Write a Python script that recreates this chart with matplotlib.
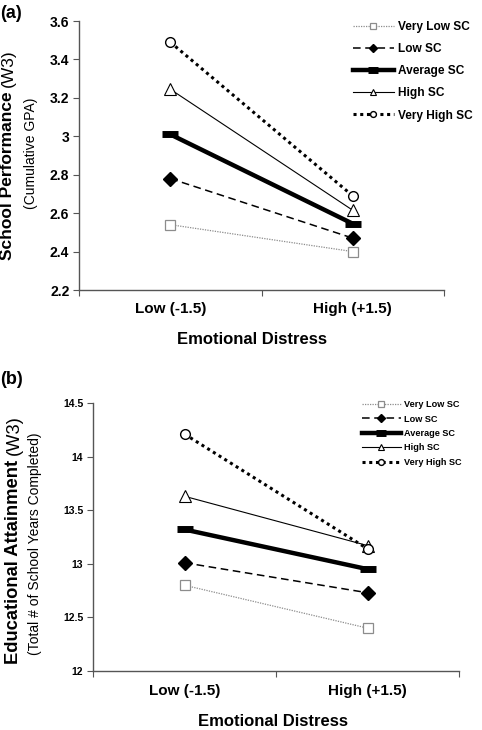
import matplotlib
matplotlib.use("Agg")
import matplotlib.pyplot as plt

plt.rcParams['font.family'] = ['Liberation Sans', 'DejaVu Sans']

categories = ["Low (-1.5)", "High (+1.5)"]
series_names = ["Very Low SC", "Low SC", "Average SC", "High SC", "Very High SC"]

gpa_very_low = [2.54, 2.40]
gpa_low = [2.78, 2.47]
gpa_average = [3.01, 2.545]
gpa_high = [3.245, 2.615]
gpa_very_high = [3.49, 2.69]

edu_very_low = [12.80, 12.40]
edu_low = [13.01, 12.73]
edu_average = [13.32, 12.95]
edu_high = [13.63, 13.17]
edu_very_high = [14.21, 13.14]

gpa_ticks = [2.2, 2.4, 2.6, 2.8, 3.0, 3.2, 3.4, 3.6]
gpa_ticklabels = ["2.2", "2.4", "2.6", "2.8", "3", "3.2", "3.4", "3.6"]
edu_ticks = [12, 12.5, 13, 13.5, 14, 14.5]
edu_ticklabels = ["12", "12.5", "13", "13.5", "14", "14.5"]

W, H = 482, 730
fig = plt.figure(figsize=(W / 100, H / 100), dpi=100)

styles = [
    dict(color='#8c8c8c', lw=0.9, ls=(0, (1, 1)), marker='s', ms=7, mfc='white', mec='#8c8c8c', mew=0.9),
    dict(color='black', lw=1.1, ls=(0, (5, 3)), marker='D', ms=7, mfc='black', mec='black'),
    dict(color='black', lw=3.2, ls='-', marker='_', ms=12, mew=5, mec='black'),
    dict(color='black', lw=0.8, ls='-', marker='^', ms=8, mfc='white', mec='black', mew=0.8),
    dict(color='black', lw=2.2, ls=(0, (1, 1.2)), marker='o', ms=7, mfc='white', mec='black', mew=1.0),
]


def fx(px):
    return px / W


def fy(py):
    return 1 - py / H


def make_panel(rect, data, ticks, ticklabels, ylim, tick_fs, leg_fs, leg_anchor, leg_spacing, handlelen):
    ax = fig.add_axes(rect)
    x = list(range(len(categories)))
    lines = []
    for vals, st, name in zip(data, styles, series_names):
        ln, = ax.plot(x, vals, label=name, **st)
        lines.append(ln)
    ax.set_xlim(-0.5, len(categories) - 0.5)
    ax.set_ylim(*ylim)
    ax.set_yticks(ticks)
    ax.set_yticklabels(ticklabels, fontsize=tick_fs, fontweight='bold')
    ax.set_xticks([-0.5, 0.5, 1.5])
    ax.set_xticklabels([])
    ax.set_xticks(x, minor=True)
    ax.set_xticklabels(categories, minor=True, fontsize=11, fontweight='bold')
    ax.tick_params(axis='x', which='minor', length=0, pad=9)
    ax.tick_params(axis='x', which='major', length=4, direction='out', color='#555555')
    ax.tick_params(axis='y', length=4, direction='out', color='#555555', pad=3)
    for s in ['top', 'right']:
        ax.spines[s].set_visible(False)
    for s in ['left', 'bottom']:
        ax.spines[s].set_color('#555555')
        ax.spines[s].set_linewidth(1.0)
    ax.legend(handles=lines, loc='upper left', bbox_to_anchor=leg_anchor,
              bbox_transform=fig.transFigure, frameon=False,
              prop={'size': leg_fs, 'weight': 'bold'}, handlelength=handlelen,
              handletextpad=0.35, labelspacing=leg_spacing, borderpad=0, borderaxespad=0,
              markerscale=0.6)
    return ax


def ylabel_mixed(xc, ybottom, bold_txt, reg_txt, fs):
    t1 = fig.text(fx(xc), fy(ybottom), bold_txt, fontsize=fs, fontweight='bold',
                  rotation=90, ha='center', va='bottom')
    fig.canvas.draw()
    bb = t1.get_window_extent()
    gap = fs * 100 / 72 * 0.28
    top_px = H - (bb.y1 + gap)
    fig.text(fx(xc), fy(top_px), reg_txt, fontsize=fs, rotation=90, ha='center', va='bottom')


# Panel (a)
ax1 = make_panel([fx(79), fy(290), fx(444) - fx(79), fy(21) - fy(290)],
                 [gpa_very_low, gpa_low, gpa_average, gpa_high, gpa_very_high],
                 gpa_ticks, gpa_ticklabels, (2.2, 3.6), 10, 8.6,
                 (fx(353), fy(21)), 0.85, 3.4)
# Panel (b)
ax2 = make_panel([fx(93), fy(671), fx(459) - fx(93), fy(403) - fy(671)],
                 [edu_very_low, edu_low, edu_average, edu_high, edu_very_high],
                 edu_ticks, edu_ticklabels, (12, 14.5), 7.5, 6.6,
                 (fx(362), fy(400)), 0.6, 4.2)

# Panel letters
fig.text(fx(0), fy(13), "(a)", fontsize=13, fontweight='bold', ha='left', va='center')
fig.text(fx(0), fy(380), "(b)", fontsize=13, fontweight='bold', ha='left', va='center')

# X axis titles
fig.text(fx(252), fy(340), "Emotional Distress", fontsize=12, fontweight='bold', ha='center', va='center')
fig.text(fx(273), fy(722), "Emotional Distress", fontsize=12, fontweight='bold', ha='center', va='center')

# Y axis titles (a)
ylabel_mixed(8, 260, "School Performance", "(W3)", 12.5)
fig.text(fx(31), fy(153), "(Cumulative GPA)", fontsize=10, rotation=90, ha='center', va='center')

# Y axis titles (b)
ylabel_mixed(14, 664, "Educational Attainment", "(W3)", 13.2)
fig.text(fx(35), fy(544), "(Total # of School Years Completed)", fontsize=10, rotation=90, ha='center', va='center')

fig.savefig("out.png", dpi=100)
